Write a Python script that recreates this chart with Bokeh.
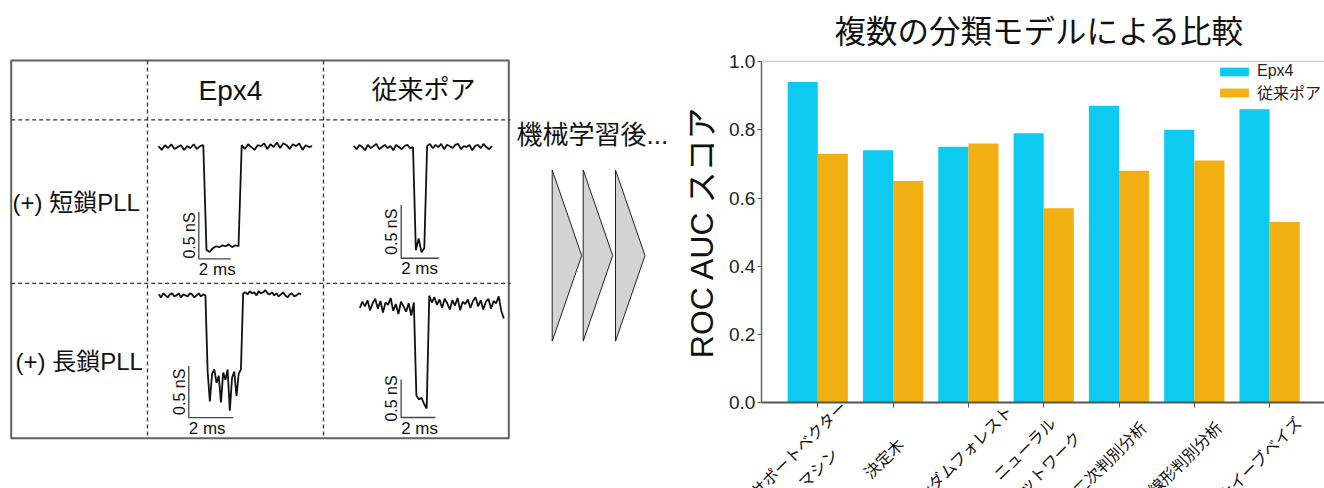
import math
import numpy as np
from bokeh.plotting import figure
from bokeh.models import (Range1d, LinearAxis, FixedTicker, Legend, LegendItem,
                          ColumnDataSource, PrintfTickFormatter)
from bokeh.transform import dodge
from bokeh.embed import file_html
from bokeh.resources import INLINE
from bokeh.core.properties import value

# ---------------- data: bar chart ----------------
models = ["サポートベクター\nマシン", "決定木", "ランダムフォレスト", "ニューラル\nネットワーク",
          "二次判別分析", "線形判別分析", "ナイーブベイズ"]
epx4_auc = [0.94, 0.74, 0.75, 0.79, 0.87, 0.80, 0.86]
conv_auc = [0.73, 0.65, 0.76, 0.57, 0.68, 0.71, 0.53]
y_ticks = [0.0, 0.2, 0.4, 0.6, 0.8, 1.0]
series_names = ["Epx4", "従来ポア"]
title_text = "複数の分類モデルによる比較"
ylabel_text = "ROC AUC スコア"

# ---------------- data: current traces (nS relative to open level) ----------------
col_labels = ["Epx4", "従来ポア"]
row_labels = ["(+) 短鎖PLL", "(+) 長鎖PLL"]
arrow_text = "機械学習後..."
scale_ns = 0.5
scale_ms = 2.0

trace1_dt = 0.2   # ms per sample
trace1_g = [0.01, -0.03, 0.02, -0.01, 0.03, -0.02, 0.00, 0.02, -0.03, 0.01, -0.01, 0.03, -0.02, 0.01, 0.02,
            -1.10, -1.12, -1.08, -1.06, -1.07, -1.05, -1.06, -1.04, -1.07, -1.05, -1.06,
            0.02, -0.02, 0.03, 0.00, -0.03, 0.02, 0.01, 0.04, -0.02, 0.03, 0.00, 0.05, -0.01, 0.04,
            0.02, -0.02, 0.03, 0.01, 0.04, -0.03, 0.02, 0.00, 0.01]

trace2_dt = 0.15
trace2_g = [0.01, -0.02, 0.02, 0.00, -0.03, 0.02, -0.01, 0.01, 0.03, -0.02, 0.00, 0.02, -0.01, 0.01, -0.03,
            0.02, 0.00, -0.02, 0.01, 0.02, -0.01, 0.00,
            -0.97, -0.86, -0.99, -0.95,
            0.01, 0.03, -0.01, 0.02, 0.00, 0.03, -0.02, 0.02, 0.01, -0.01, 0.02, 0.03, -0.02, 0.01,
            0.00, 0.02, -0.03, 0.01, 0.02, -0.01, 0.03, 0.00, -0.02, 0.01]

trace3_dt = 0.1
trace3_g = [0.01, -0.02, 0.02, 0.00, -0.02, 0.01, 0.02, -0.01, 0.00, 0.02, -0.02, 0.01, 0.00, -0.01, 0.02,
            0.01, -0.02, 0.00, 0.02, -0.01, 0.01, 0.00,
            -0.74, -1.03, -0.76, -0.72, -0.85, -0.78, -1.04, -0.75, -0.82, -0.72, -1.12, -0.80, -0.74,
            -0.98, -0.76, -0.72,
            0.02, 0.03, 0.01, 0.04, 0.02, 0.03, 0.00, 0.04, 0.02, 0.03, 0.05, 0.02, 0.01, 0.03, 0.00,
            0.02, -0.01, 0.01, 0.03, 0.00, -0.02, 0.01, 0.02, -0.01, 0.00, 0.02, 0.01]

trace4_dt = 0.15
trace4_g = [-0.02, 0.06, 0.00, 0.08, -0.05, 0.04, 0.10, -0.03, 0.07, -0.08, 0.05, 0.02, 0.11, -0.06, 0.03,
            -0.10, 0.06, 0.00, -0.07, 0.04, -0.12, 0.05,
            -1.17, -1.22, -1.20, -1.28, -1.34,
            0.14, 0.05, 0.12, 0.02, 0.09, -0.02, 0.10, 0.04, -0.04, 0.08, 0.01, 0.11, -0.05, 0.06,
            0.03, 0.09, -0.02, 0.07, 0.12, 0.00, 0.08, -0.04, 0.06, 0.10, -0.03, 0.07, 0.04, 0.13,
            -0.06, -0.16]

# ---------------- styles / layout ----------------
CYAN = "#0DCAF0"
ORANGE = "#F2AF11"
LATIN_CJK = "'Liberation Sans', 'Noto Sans CJK JP'"
CJK = "'Noto Sans CJK JP'"

W, H = 1324, 488
TOP = 52                       # title band above the frame
PX_CAT0, PX_PER_CAT = 817.3, 75.3   # pixel x of first category, pixels per category
PY_ZERO, PY_ONE = 402.0, 59.0       # pixel y of score 0 and 1
PPU = PY_ZERO - PY_ONE

x_start = (0 - PX_CAT0) / PX_PER_CAT
x_end = (W - PX_CAT0) / PX_PER_CAT
y_start = -(H - PY_ZERO) / PPU
y_end = 1.0 + (PY_ONE - TOP) / PPU
AXIS_X = -0.75

p = figure(width=W, height=H, x_range=Range1d(x_start, x_end), y_range=Range1d(y_start, y_end),
           output_backend="svg", toolbar_location=None, x_axis_type=None, y_axis_type=None,
           min_border_left=0, min_border_right=0, min_border_bottom=0, min_border_top=TOP)
p.outline_line_color = None

# ---- left schematic, drawn on a pixel-like range
p.extra_x_ranges["px"] = Range1d(0, W)
p.extra_y_ranges["px"] = Range1d(H, TOP)
PXR = dict(x_range_name="px", y_range_name="px")

BOX_L, BOX_T, BOX_R, BOX_B = 10.7, 58, 508.3, 437.5
V_DASH = [147, 323]
H_DASH = [117.7, 282]
p.quad(left=[BOX_L], right=[BOX_R], top=[BOX_T], bottom=[BOX_B], fill_color=None,
       line_color="#606060", line_width=2, **PXR)
p.multi_line(xs=[[x, x] for x in V_DASH], ys=[[BOX_T, BOX_B] for _ in V_DASH],
             line_color="#333333", line_width=1.3, line_dash="4 3", **PXR)
p.multi_line(xs=[[BOX_L, 510] for _ in H_DASH], ys=[[y, y] for y in H_DASH],
             line_color="#333333", line_width=1.3, line_dash="4 3", **PXR)

p.text(x=[230], y=[88], text=[col_labels[0]], text_font=value(LATIN_CJK), text_font_size="28px",
       text_align="center", text_baseline="middle", text_color="#111111", **PXR)
p.text(x=[423], y=[88], text=[col_labels[1]], text_font=value(LATIN_CJK), text_font_size="26px",
       text_align="center", text_baseline="middle", text_color="#111111", **PXR)
p.text(x=[12, 15], y=[201, 360], text=row_labels, text_font=value(LATIN_CJK), text_font_size="24px",
       text_align="left", text_baseline="middle", text_color="#111111", **PXR)
p.text(x=[516], y=[133], text=[arrow_text], text_font=value(LATIN_CJK), text_font_size="26px",
       text_align="left", text_baseline="middle", text_color="#111111", **PXR)

ARROW_LEFTS = [551.7, 582.7, 615.0]
ARROW_W, ARROW_TOP, ARROW_BOT = 29.5, 168, 340
p.patches(xs=[[a, a + ARROW_W, a] for a in ARROW_LEFTS],
          ys=[[ARROW_TOP, (ARROW_TOP + ARROW_BOT) / 2, ARROW_BOT] for _ in ARROW_LEFTS],
          fill_color="#d3d3d3", line_color="#222222", line_width=1, **PXR)

# each trace gets its own ms / nS scales (placement: t=0 x, px per ms, open-level y, px per nS)
traces = [
    ("tr1", trace1_dt, trace1_g, dict(x0=158.0, ppm=16.0, yb=145.0, ppn=94.0), (2.52, -1.195)),
    ("tr2", trace2_dt, trace2_g, dict(x0=353.3, ppm=18.8, yb=145.0, ppn=106.8), (2.52, -1.046)),
    ("tr3", trace3_dt, trace3_g, dict(x0=158.3, ppm=22.2, yb=294.0, ppn=103.4), (1.35, -1.187)),
    ("tr4", trace4_dt, trace4_g, dict(x0=359.3, ppm=17.15, yb=305.0, ppn=76.6), (2.41, -1.458)),
]
for key, dt, g, pos, corner in traces:
    p.extra_x_ranges[key] = Range1d((0 - pos["x0"]) / pos["ppm"], (W - pos["x0"]) / pos["ppm"])
    p.extra_y_ranges[key] = Range1d((pos["yb"] - H) / pos["ppn"], (pos["yb"] - TOP) / pos["ppn"])
    rr = dict(x_range_name=key, y_range_name=key)
    t = np.arange(len(g)) * dt
    p.line(t, g, line_color="#111111", line_width=1.8, **rr)
    tc, gc = corner
    p.line([tc, tc, tc + scale_ms], [gc + scale_ns, gc, gc], line_color="#444444", line_width=1.3, **rr)
    p.text(x=[tc], y=[gc + scale_ns / 2], text=["0.5 nS"], angle=math.pi / 2,
           text_font=value(LATIN_CJK), text_font_size="16px", text_align="center",
           text_baseline="bottom", x_offset=-1, text_color="#111111", **rr)
    p.text(x=[tc], y=[gc], text=["2 ms"], text_font=value(LATIN_CJK), text_font_size="17px",
           text_align="left", text_baseline="top", y_offset=1, text_color="#111111", **rr)

# ---- bar chart
p.title.text = title_text
p.title.align = "left"
p.title.offset = 834
p.title.text_font = CJK
p.title.text_font_size = "31.5px"
p.title.text_font_style = "normal"
p.title.text_color = "#111111"
p.title.standoff = 6

idx = list(range(len(models)))
src = ColumnDataSource(dict(x=idx, epx4=epx4_auc, conv=conv_auc, name=models, base=[0] * len(models)))
r1 = p.vbar(x=dodge("x", -0.2), top="epx4", bottom=0, width=0.4, source=src,
            fill_color=CYAN, line_color=None)
r2 = p.vbar(x=dodge("x", 0.2), top="conv", bottom=0, width=0.4, source=src,
            fill_color=ORANGE, line_color=None)

yaxis = LinearAxis(fixed_location=AXIS_X, bounds=(0, 1), ticker=FixedTicker(ticks=y_ticks),
                   formatter=PrintfTickFormatter(format="%.1f"), axis_label=ylabel_text)
yaxis.axis_line_color = "#666666"
yaxis.axis_line_width = 1.5
yaxis.major_tick_line_color = "#666666"
yaxis.major_tick_out = 4
yaxis.major_tick_in = 0
yaxis.minor_tick_line_color = None
yaxis.major_label_standoff = 2
yaxis.major_label_text_font = "'Liberation Sans'"
yaxis.major_label_text_font_size = "19px"
yaxis.major_label_text_color = "#222222"
yaxis.axis_label_text_font = LATIN_CJK
yaxis.axis_label_text_font_size = "32px"
yaxis.axis_label_text_font_style = "normal"
yaxis.axis_label_text_color = "#111111"
yaxis.axis_label_standoff = 6
p.add_layout(yaxis, "left")

# x axis: line and ticks at the category centres; the category names are set centred
# under each tick (rotated 45 degrees) as in the reference
xaxis = LinearAxis(fixed_location=0, bounds=(AXIS_X, x_end), ticker=FixedTicker(ticks=idx),
                   major_label_overrides={i: "" for i in idx})
xaxis.axis_line_color = "#555555"
xaxis.axis_line_width = 2
xaxis.major_tick_line_color = "#555555"
xaxis.major_tick_out = 5
xaxis.major_tick_in = 0
xaxis.minor_tick_line_color = None
p.add_layout(xaxis, "below")
p.text(x="x", y="base", text="name", source=src, angle=math.pi / 4, x_offset=-10, y_offset=55,
       text_align="center", text_baseline="middle", text_font=value(CJK), text_font_size="16px",
       text_color="#111111", text_line_height=1.15)

topline = LinearAxis(fixed_location=1.0, bounds=(AXIS_X, x_end), ticker=FixedTicker(ticks=[]))
topline.axis_line_color = "#cccccc"
topline.axis_line_width = 1.5
topline.major_tick_line_color = None
topline.minor_tick_line_color = None
topline.major_label_text_font_size = "0px"
p.add_layout(topline, "above")

legend = Legend(items=[LegendItem(label=series_names[0], renderers=[r1]),
                       LegendItem(label=series_names[1], renderers=[r2])],
                location=(1216, 384), margin=0, padding=0, spacing=-5,
                glyph_width=36, glyph_height=11, label_height=18, label_standoff=5,
                label_text_font=LATIN_CJK, label_text_font_size="16px", label_text_color="#222222",
                background_fill_alpha=0, border_line_color=None)
p.add_layout(legend)

open("out.html", "w").write(file_html(p, INLINE))
